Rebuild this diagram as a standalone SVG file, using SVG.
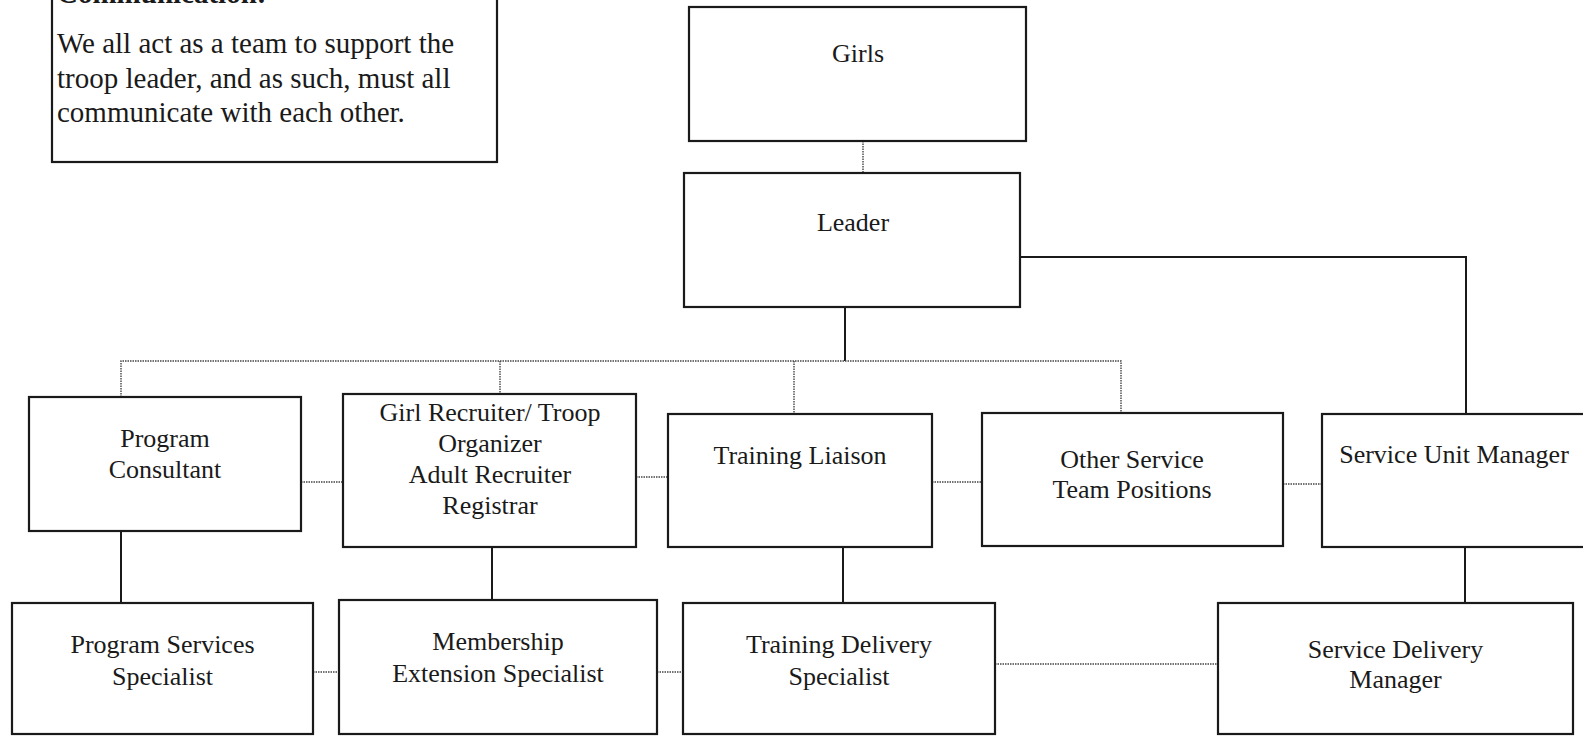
<svg xmlns="http://www.w3.org/2000/svg" width="1583" height="736" viewBox="0 0 1583 736">
<style>
.box{fill:#fff;stroke:#1a1a1a;stroke-width:2.2}
.t{font-family:"Liberation Serif","Times New Roman",serif;font-size:26px;fill:#1a1a1a;text-anchor:middle}
.note{font-family:"Liberation Serif","Times New Roman",serif;font-size:29px;fill:#1a1a1a}
.solid{fill:none;stroke:#1a1a1a;stroke-width:2}
.dot{fill:none;stroke:#444;stroke-width:1.4;stroke-dasharray:1.5 1}
</style>
<rect width="1583" height="736" fill="#fff"/>
<g id="connectors">
<path class="dot" d="M863 141V173"/>
<path class="solid" d="M845 307V361"/>
<path class="solid" d="M1020 257H1466V414"/>
<path class="dot" d="M121 397V361H1121V413"/>
<path class="dot" d="M500 361V394"/>
<path class="dot" d="M794 361V414"/>
<path class="dot" d="M301 482H343"/>
<path class="dot" d="M636 477H668"/>
<path class="dot" d="M932 482H982"/>
<path class="dot" d="M1283 484H1322"/>
<path class="solid" d="M121 531V603"/>
<path class="solid" d="M492 547V600"/>
<path class="solid" d="M843 547V603"/>
<path class="solid" d="M1465 547V603"/>
<path class="dot" d="M313 672H339"/>
<path class="dot" d="M657 672H683"/>
<path class="dot" d="M995 664H1218"/>
</g>
<g id="note">
<rect class="box" x="52" y="-40" width="445" height="202"/>
<text class="note" x="57" y="3" font-weight="bold">Communication:</text>
<text class="note" x="57" y="53">We all act as a team to support the</text>
<text class="note" x="57" y="88">troop leader, and as such, must all</text>
<text class="note" x="57" y="122">communicate with each other.</text>
</g>
<g id="girls">
<rect class="box" x="689" y="7" width="337" height="134"/>
<text class="t" x="858" y="62">Girls</text>
</g>
<g id="leader">
<rect class="box" x="684" y="173" width="336" height="134"/>
<text class="t" x="853" y="231">Leader</text>
</g>
<g id="program-consultant">
<rect class="box" x="29" y="397" width="272" height="134"/>
<text class="t" x="165" y="447">Program</text>
<text class="t" x="165" y="478">Consultant</text>
</g>
<g id="girl-recruiter">
<rect class="box" x="343" y="394" width="293" height="153"/>
<text class="t" x="490" y="421">Girl Recruiter/ Troop</text>
<text class="t" x="490" y="452">Organizer</text>
<text class="t" x="490" y="483">Adult Recruiter</text>
<text class="t" x="490" y="514">Registrar</text>
</g>
<g id="training-liaison">
<rect class="box" x="668" y="414" width="264" height="133"/>
<text class="t" x="800" y="464">Training Liaison</text>
</g>
<g id="other-service">
<rect class="box" x="982" y="413" width="301" height="133"/>
<text class="t" x="1132" y="468">Other Service</text>
<text class="t" x="1132" y="498">Team Positions</text>
</g>
<g id="service-unit-manager">
<rect class="box" x="1322" y="414" width="265" height="133"/>
<text class="t" x="1454" y="463">Service Unit Manager</text>
</g>
<g id="program-services">
<rect class="box" x="12" y="603" width="301" height="131"/>
<text class="t" x="162.5" y="653">Program Services</text>
<text class="t" x="162.5" y="685">Specialist</text>
</g>
<g id="membership">
<rect class="box" x="339" y="600" width="318" height="134"/>
<text class="t" x="498" y="650">Membership</text>
<text class="t" x="498" y="682">Extension Specialist</text>
</g>
<g id="training-delivery">
<rect class="box" x="683" y="603" width="312" height="131"/>
<text class="t" x="839" y="653">Training Delivery</text>
<text class="t" x="839" y="685">Specialist</text>
</g>
<g id="service-delivery">
<rect class="box" x="1218" y="603" width="355" height="131"/>
<text class="t" x="1395.5" y="658">Service Delivery</text>
<text class="t" x="1395.5" y="688">Manager</text>
</g>
</svg>
